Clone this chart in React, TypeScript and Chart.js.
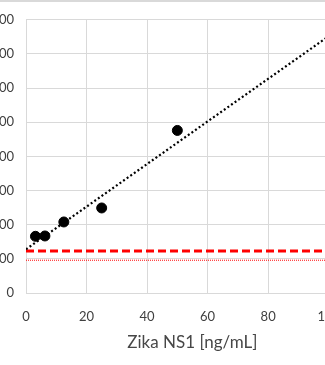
import React, { useEffect, useRef } from "react";
import { Chart, registerables } from "chart.js";

Chart.register(...registerables);

// ---- data ----
const concentrations = [3.125, 6.25, 12.5, 25, 50];
const signals = [166, 167, 208, 249, 476];
const trendX = [0, 100];
const trendY = [128, 752];
const cutoffDashed = 123;
const cutoffDotted = 96;
const xRange = [0, 100];
const yRange = [0, 800];
const xStep = 20;
const yStep = 100;
const xTitle = "Zika NS1 [ng/mL]";

const FONT = "Lato";

const titlePlugin = {
  id: "xAxisTitle",
  afterDraw(chart: any) {
    const { ctx, chartArea } = chart;
    ctx.save();
    ctx.font = `17px ${FONT}`;
    ctx.fillStyle = "#474747";
    ctx.textAlign = "center";
    ctx.textBaseline = "middle";
    ctx.fillText(xTitle, (chartArea.left + chartArea.right) / 2 + 15, chartArea.bottom + 50);
    ctx.restore();
  },
};

export default function App() {
  const ref = useRef<HTMLCanvasElement | null>(null);

  useEffect(() => {
    if (!ref.current) return;
    const chart = new Chart(ref.current, {
      type: "scatter",
      data: {
        datasets: [
          {
            label: "Zika NS1",
            data: concentrations.map((x, i) => ({ x, y: signals[i] })),
            backgroundColor: "#000000",
            borderColor: "#000000",
            pointRadius: 5,
            pointHoverRadius: 5,
            showLine: false,
            order: 0,
          },
          {
            label: "Trend",
            data: trendX.map((x, i) => ({ x, y: trendY[i] })),
            showLine: true,
            borderColor: "#000000",
            borderWidth: 2.2,
            borderDash: [2, 2.4],
            pointRadius: 0,
            order: 1,
          },
          {
            label: "Cutoff",
            data: xRange.map((x) => ({ x, y: cutoffDashed })),
            showLine: true,
            borderColor: "#ff0000",
            borderWidth: 3,
            borderDash: [8, 4],
            pointRadius: 0,
            order: 2,
          },
          {
            label: "Blank",
            data: xRange.map((x) => ({ x, y: cutoffDotted })),
            showLine: true,
            borderColor: "#ff0000",
            borderWidth: 1,
            borderDash: [1, 1],
            pointRadius: 0,
            order: 3,
          },
        ],
      },
      options: {
        animation: false,
        responsive: false,
        maintainAspectRatio: false,
        layout: { padding: { top: 19, right: 27, bottom: 0, left: 0 } },
        plugins: { legend: { display: false }, tooltip: { enabled: false } },
        scales: {
          x: {
            type: "linear",
            min: xRange[0],
            max: xRange[1],
            ticks: {
              stepSize: xStep,
              padding: 16,
              color: "#404040",
              font: { family: FONT, size: 13 },
            },
            grid: { color: "#d9d9d9", lineWidth: 1, drawTicks: false },
            border: { color: "#d9d9d9" },
            afterFit: (s: any) => {
              s.height = 72;
            },
          },
          y: {
            type: "linear",
            min: yRange[0],
            max: yRange[1],
            ticks: {
              stepSize: yStep,
              padding: 12,
              color: "#404040",
              font: { family: FONT, size: 13 },
            },
            grid: { color: "#d9d9d9", lineWidth: 1, drawTicks: false },
            border: { color: "#d9d9d9" },
            afterFit: (s: any) => {
              s.width = 50;
            },
          },
        },
      },
      plugins: [titlePlugin],
    });
    return () => chart.destroy();
  }, []);

  return (
    <div
      style={{
        position: "fixed",
        left: 0,
        top: 0,
        width: 325,
        height: 365,
        overflow: "hidden",
        background: "#ffffff",
      }}
    >
      <div
        style={{
          position: "absolute",
          left: 0,
          top: 0,
          width: 325,
          height: 2,
          background: "#d9d9d9",
          zIndex: 1,
        }}
      />
      <canvas
        ref={ref}
        width={380}
        height={365}
        style={{ position: "absolute", left: -24, top: 0, width: 380, height: 365 }}
      />
    </div>
  );
}
